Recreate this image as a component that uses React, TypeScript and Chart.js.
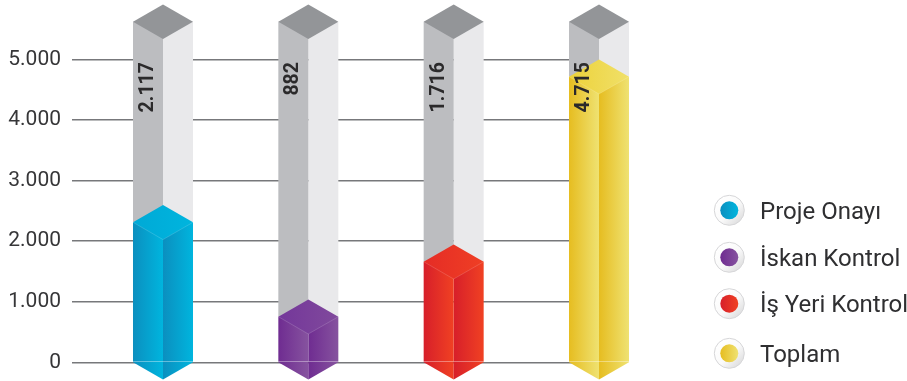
import React, { useEffect, useRef } from "react";
import { Chart, registerables } from "chart.js";

Chart.register(...registerables);

const categories = ["Proje Onayı", "İskan Kontrol", "İş Yeri Kontrol", "Toplam"];
const labelValues = [2117, 882, 1716, 4715];
// Heights as drawn in the picture (the artwork is not exactly to scale with its labels)
const drawnHeights = [2312, 753, 1661, 4716];
const columnTop = 5624;
const yTicks = [0, 1000, 2000, 3000, 4000, 5000];
const faceStart = ["#0b8fbf", "#6f2c91", "#d71f2a", "#e6bd20"];
const faceEnd = ["#00b5de", "#86539f", "#f04123", "#efe272"];
const capStart = ["#00a9d6", "#74379a", "#e52c26", "#edd23a"];
const capEnd = ["#00b5de", "#80499c", "#ef3f24", "#f0e069"];
const trackLeft = "#bcbdc0";
const trackRight = "#e9e9eb";
const trackCap = "#939598";
const legendRows = [210.3, 257.3, 303.7, 353.3];

const HALF_W = 30;
const HALF_H = 17.3;
const fontFamily = "Roboto, sans-serif";

const fmt = (v: number) => String(v).replace(/\B(?=(\d{3})+(?!\d))/g, ".");

function faceFill(ctx: any, side: "L" | "R") {
  const chart = ctx.chart;
  const xs = chart.scales?.x;
  const cx = xs ? xs.getPixelForValue(ctx.dataIndex) : NaN;
  if (!Number.isFinite(cx)) return faceStart[ctx.dataIndex] || "#000";
  const x0 = side === "L" ? cx - HALF_W : cx;
  const g = chart.ctx.createLinearGradient(x0, 0, x0 + HALF_W, 0);
  g.addColorStop(0, faceStart[ctx.dataIndex]);
  g.addColorStop(1, faceEnd[ctx.dataIndex]);
  return g;
}

function diamond(c: CanvasRenderingContext2D, cx: number, y: number, fill: any) {
  c.beginPath();
  c.moveTo(cx - HALF_W, y);
  c.lineTo(cx, y - HALF_H);
  c.lineTo(cx + HALF_W, y);
  c.lineTo(cx, y + HALF_H);
  c.closePath();
  c.fillStyle = fill;
  c.fill();
}

const columnsPlugin = {
  id: "columns3d",
  afterDatasetsDraw(chart: any) {
    const c: CanvasRenderingContext2D = chart.ctx;
    const xs = chart.scales.x;
    const ys = chart.scales.y;
    const y0 = ys.getPixelForValue(0);
    const yTop = ys.getPixelForValue(columnTop);
    categories.forEach((_, i) => {
      const cx = xs.getPixelForValue(i);
      const yv = ys.getPixelForValue(drawnHeights[i]);
      // bottom chevrons
      const gl = c.createLinearGradient(cx - HALF_W, 0, cx, 0);
      gl.addColorStop(0, faceStart[i]);
      gl.addColorStop(1, faceEnd[i]);
      const gr = c.createLinearGradient(cx, 0, cx + HALF_W, 0);
      gr.addColorStop(0, faceStart[i]);
      gr.addColorStop(1, faceEnd[i]);
      c.save();
      c.beginPath();
      c.moveTo(cx - HALF_W, y0 - 0.5);
      c.lineTo(cx, y0 - 0.5);
      c.lineTo(cx, y0 + HALF_H);
      c.lineTo(cx - HALF_W, y0);
      c.closePath();
      c.fillStyle = gl;
      c.fill();
      c.beginPath();
      c.moveTo(cx, y0 - 0.5);
      c.lineTo(cx + HALF_W, y0 - 0.5);
      c.lineTo(cx + HALF_W, y0);
      c.lineTo(cx, y0 + HALF_H);
      c.closePath();
      c.fillStyle = gr;
      c.fill();
      // grey top of the column
      diamond(c, cx, yTop, trackCap);
      // top of the value part
      const gc = c.createLinearGradient(cx - HALF_W, 0, cx + HALF_W, 0);
      gc.addColorStop(0, capStart[i]);
      gc.addColorStop(1, capEnd[i]);
      diamond(c, cx, yv, gc);
      // faint seams on the front edges
      c.strokeStyle = "rgba(255,255,255,0.22)";
      c.lineWidth = 0.7;
      c.beginPath();
      c.moveTo(cx - HALF_W, yv);
      c.lineTo(cx, yv + HALF_H);
      c.lineTo(cx + HALF_W, yv);
      c.stroke();
      // value label
      c.translate(cx - 15, 62);
      c.rotate(-Math.PI / 2);
      c.font = `700 19.5px ${fontFamily}`;
      c.fillStyle = "#2b2a2b";
      c.textAlign = "right";
      c.textBaseline = "middle";
      c.fillText(fmt(labelValues[i]), 0, 0);
      c.restore();
    });
  },
};

const legendPlugin = {
  id: "circleLegend",
  afterDraw(chart: any) {
    const c: CanvasRenderingContext2D = chart.ctx;
    const cx = 729.3;
    categories.forEach((name, i) => {
      const y = legendRows[i];
      c.save();
      c.beginPath();
      c.arc(cx, y, 15, 0, Math.PI * 2);
      const halo = c.createLinearGradient(cx - 12, y - 12, cx + 12, y + 12);
      halo.addColorStop(0, "#ffffff");
      halo.addColorStop(0.55, "#fafafa");
      halo.addColorStop(1, "#dcdcdd");
      c.fillStyle = halo;
      c.fill();
      c.strokeStyle = "#d6d6d8";
      c.lineWidth = 1;
      c.stroke();
      const g = c.createLinearGradient(cx - 9, 0, cx + 9, 0);
      g.addColorStop(0, faceStart[i]);
      g.addColorStop(1, faceEnd[i]);
      c.beginPath();
      c.arc(cx, y, 9, 0, Math.PI * 2);
      c.fillStyle = g;
      c.fill();
      c.font = `400 24px ${fontFamily}`;
      c.fillStyle = "#2f2f31";
      c.textAlign = "left";
      c.textBaseline = "alphabetic";
      c.fillText(name, 760, y + 8.7);
      c.restore();
    });
  },
};

export default function App() {
  const ref = useRef<HTMLCanvasElement | null>(null);
  useEffect(() => {
    const chart = new Chart(ref.current as HTMLCanvasElement, {
      type: "bar",
      data: {
        labels: categories,
        datasets: [
          {
            label: "Değer (sol yüz)",
            stack: "L",
            data: drawnHeights,
            backgroundColor: (ctx: any) => faceFill(ctx, "L"),
          },
          {
            label: "Kalan (sol yüz)",
            stack: "L",
            data: drawnHeights.map((v) => columnTop - v),
            backgroundColor: trackLeft,
          },
          {
            label: "Değer (sağ yüz)",
            stack: "R",
            data: drawnHeights,
            backgroundColor: (ctx: any) => faceFill(ctx, "R"),
          },
          {
            label: "Kalan (sağ yüz)",
            stack: "R",
            data: drawnHeights.map((v) => columnTop - v),
            backgroundColor: trackRight,
          },
        ] as any,
      },
      options: {
        animation: false,
        responsive: false,
        events: [],
        clip: false,
        categoryPercentage: 60 / 145.33,
        barPercentage: 1,
        borderWidth: 0,
        layout: { padding: { top: 21.7, bottom: 18.7, right: 308, left: 0 } },
        plugins: { legend: { display: false }, tooltip: { enabled: false } },
        scales: {
          x: { type: "category", stacked: true, offset: false, display: false },
          y: {
            stacked: true,
            min: 0,
            max: columnTop,
            afterFit: (s: any) => {
              s.width = 163;
              s.paddingTop = 0;
              s.paddingBottom = 0;
            },
            afterBuildTicks: (s: any) => {
              s.ticks = yTicks.map((value) => ({ value }));
            },
            border: { display: false },
            grid: { color: "#77787b", lineWidth: 1.4, tickLength: 91, drawTicks: true },
            ticks: {
              padding: 11,
              color: "#363638",
              font: { family: fontFamily, size: 21, weight: 400 },
              callback: (v: any) => fmt(Number(v)),
            },
          },
        },
      } as any,
      plugins: [columnsPlugin, legendPlugin],
    });
    return () => chart.destroy();
  }, []);
  return (
    <div style={{ position: "absolute", left: 0, top: 0, width: 907, height: 381, background: "#fff" }}>
      <canvas ref={ref} width={907} height={381} style={{ display: "block" }} />
    </div>
  );
}
